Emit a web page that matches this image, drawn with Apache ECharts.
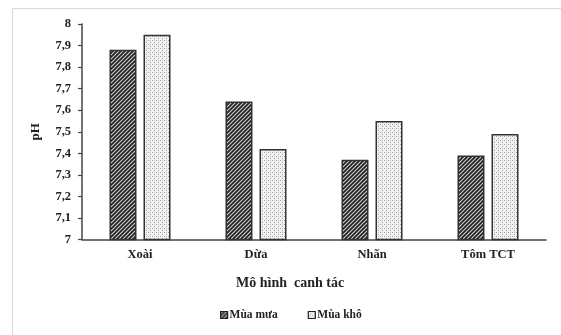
<!DOCTYPE html>
<html>
<head>
<meta charset="utf-8">
<script src="https://cdn.jsdelivr.net/npm/echarts@6/dist/echarts.min.js"></script>
<style>
  html, body { margin: 0; padding: 0; background: #fff; }
  #chart { width: 561px; height: 335px; }
</style>
</head>
<body>
<div id="chart"></div>
<script>
// Farming models and soil pH by season
const categories = ['Xoài', 'Dừa', 'Nhãn', 'Tôm TCT'];
const rainySeason = [7.88, 7.64, 7.37, 7.39];   // Mùa mưa
const drySeason = [7.95, 7.42, 7.55, 7.49];     // Mùa khô
const seriesNames = ['Mùa mưa', 'Mùa khô'];

const FONT = '"Liberation Serif", "Times New Roman", serif';

// Diagonal hatch fill for the rainy-season bars
function hatchPattern() {
  const c = document.createElement('canvas');
  c.width = 4; c.height = 4;
  const g = c.getContext('2d');
  g.fillStyle = '#d8d8d8';
  g.fillRect(0, 0, 4, 4);
  g.strokeStyle = '#222';
  g.lineWidth = 1.8;
  g.beginPath();
  g.moveTo(-1, 5); g.lineTo(5, -1);
  g.moveTo(-1, 1); g.lineTo(1, -1);
  g.moveTo(3, 5); g.lineTo(5, 3);
  g.stroke();
  return c;
}

// Fine dotted fill for the dry-season bars
function dotPattern() {
  const c = document.createElement('canvas');
  c.width = 4; c.height = 4;
  const g = c.getContext('2d');
  g.fillStyle = '#f2f2f2';
  g.fillRect(0, 0, 4, 4);
  g.fillStyle = '#a0a0a0';
  g.fillRect(0, 0, 1, 1);
  g.fillRect(2, 2, 1, 1);
  g.fillStyle = '#c8c8c8';
  g.fillRect(2, 0, 1, 1);
  return c;
}

const chart = echarts.init(document.getElementById('chart'), null, { renderer: 'canvas' });

const fmt = v => {
  const r = Math.round(v * 10) / 10;
  return Number.isInteger(r) ? String(r) : r.toFixed(1).replace('.', ',');
};

chart.setOption({
  animation: false,
  backgroundColor: '#fff',
  graphic: [{
    type: 'rect',
    shape: { x: 12.5, y: 8.5, width: 560, height: 340 },
    style: { fill: 'none', stroke: '#d9d9d9', lineWidth: 1 },
    silent: true
  }, {
    type: 'text',
    left: 236, top: 276,
    style: { text: 'Mô hình  canh tác', font: 'bold 14px ' + FONT, fill: '#222' }
  }],
  grid: { left: 82, right: 15, top: 24, bottom: 95.5, containLabel: false },
  legend: {
    left: 215, top: 304,
    itemWidth: 7, itemHeight: 7, itemGap: 30,
    icon: 'rect',
    data: seriesNames,
    textStyle: { fontFamily: FONT, fontWeight: 'bold', fontSize: 11.5, color: '#222', padding: [0, 0, 0, -3] },
    itemStyle: { borderColor: '#222', borderWidth: 1.2 }
  },
  xAxis: {
    type: 'category',
    data: categories,
    axisLine: { lineStyle: { color: '#444', width: 1.5 } },
    axisTick: { show: false },
    axisLabel: { fontFamily: FONT, fontWeight: 'bold', fontSize: 12.5, color: '#222', margin: 9 }
  },
  yAxis: {
    type: 'value',
    min: 7, max: 8, interval: 0.1,
    name: 'pH',
    nameLocation: 'middle',
    nameGap: 40,
    nameTextStyle: { fontFamily: FONT, fontWeight: 'bold', fontSize: 13, color: '#222' },
    axisLine: { show: true, lineStyle: { color: '#444', width: 1.5 } },
    axisTick: { show: true, length: 4, lineStyle: { color: '#444', width: 1.2 } },
    splitLine: { show: false },
    axisLabel: { fontFamily: FONT, fontWeight: 'bold', fontSize: 12.5, color: '#222', margin: 11, formatter: fmt }
  },
  series: [{
    name: seriesNames[0],
    type: 'bar',
    data: rainySeason,
    barWidth: 27,
    barGap: '26%',
    itemStyle: { color: { image: hatchPattern(), repeat: 'repeat' }, borderColor: '#333', borderWidth: 1.5 }
  }, {
    name: seriesNames[1],
    type: 'bar',
    data: drySeason,
    barWidth: 27,
    itemStyle: { color: { image: dotPattern(), repeat: 'repeat' }, borderColor: '#333', borderWidth: 1.5 }
  }]
});
</script>
</body>
</html>
